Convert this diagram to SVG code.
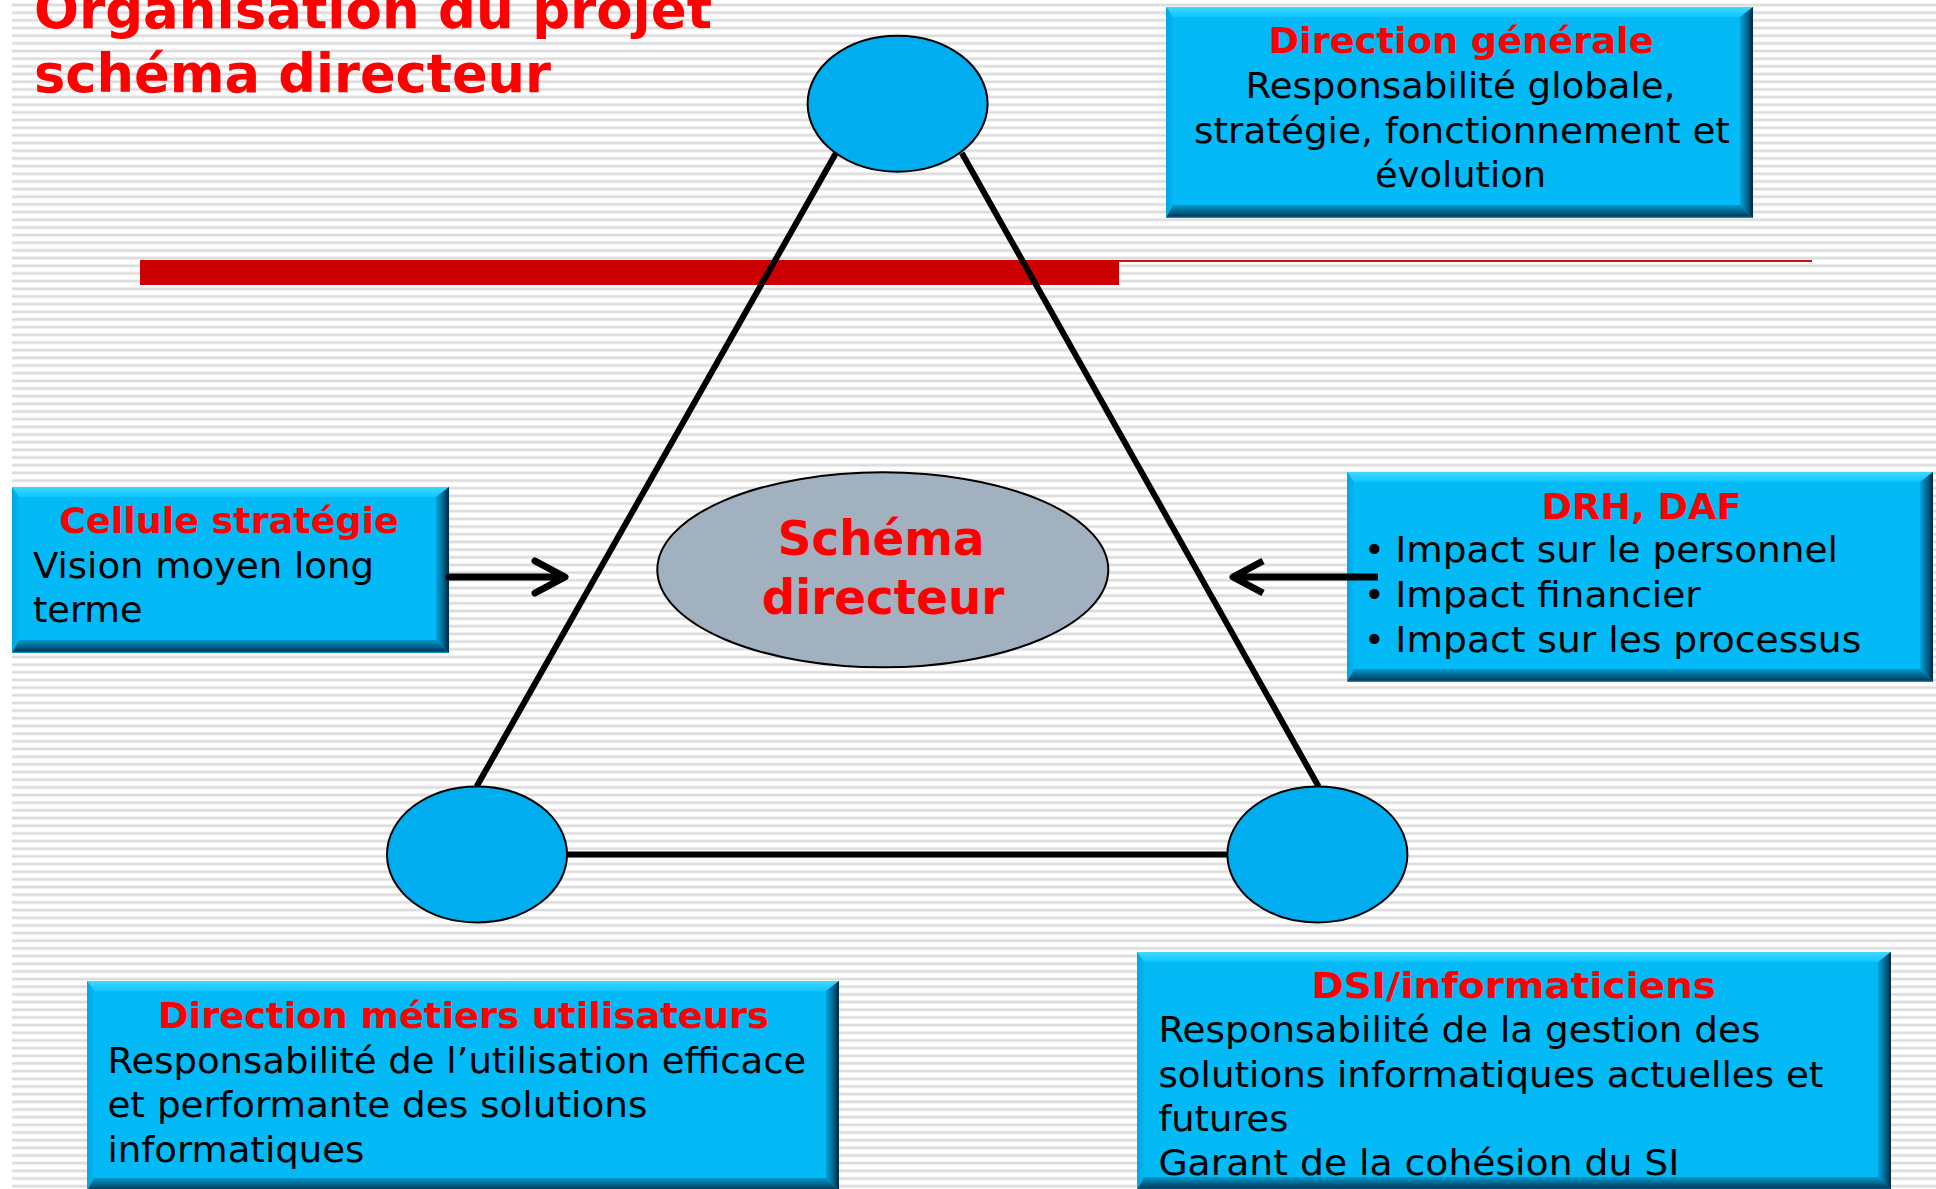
<svg xmlns="http://www.w3.org/2000/svg" width="1936" height="1189" viewBox="0 0 1936 1189">
<defs>
<pattern id="stripes" x="12" y="1.2" width="40" height="7.67" patternUnits="userSpaceOnUse">
<rect x="0" y="0" width="40" height="7.67" fill="#ffffff"/>
<rect x="0" y="2.2" width="40" height="3.2" fill="#ececec"/>
<rect x="0" y="2.8" width="40" height="2" fill="#dcdcdc"/>
</pattern>
<linearGradient id="gTop" x1="0" y1="0" x2="0" y2="1"><stop offset="0" stop-color="#3fd8ff"/><stop offset="1" stop-color="#10c6ff"/></linearGradient>
<linearGradient id="gLeft" x1="0" y1="0" x2="1" y2="0"><stop offset="0" stop-color="#00a6e2"/><stop offset="1" stop-color="#00b6f2"/></linearGradient>
<linearGradient id="gRight" x1="0" y1="0" x2="1" y2="0"><stop offset="0" stop-color="#00a4dc"/><stop offset="0.5" stop-color="#006c98"/><stop offset="1" stop-color="#00263c"/></linearGradient>
<linearGradient id="gBottom" x1="0" y1="0" x2="0" y2="1"><stop offset="0" stop-color="#0098cc"/><stop offset="0.6" stop-color="#005a80"/><stop offset="0.85" stop-color="#003a58"/><stop offset="1" stop-color="#14a8dc"/></linearGradient>
</defs>
<style>
.face{fill:#03b9f6}
.bt{fill:url(#gTop)}
.bl{fill:url(#gLeft)}
.br{fill:url(#gRight)}
.bb{fill:url(#gBottom)}
.head{font-family:"DejaVu Sans",Verdana,sans-serif;font-weight:bold;font-size:36px;fill:#ff0000}
.body{font-family:"DejaVu Sans",Verdana,sans-serif;font-size:35px;fill:#000000}
.title{font-family:"DejaVu Sans",Verdana,sans-serif;font-weight:bold;font-size:54px;fill:#ff0000}
.center{font-family:"DejaVu Sans",Verdana,sans-serif;font-weight:bold;font-size:48px;fill:#ff0000}
.tri{stroke:#000;stroke-width:6;fill:none}
.node{fill:#00aeef;stroke:#000;stroke-width:2}
.arrow{stroke:#000;stroke-width:7;fill:none;stroke-linecap:round;stroke-linejoin:round}
</style>
<rect x="0" y="0" width="1936" height="1189" fill="#ffffff"/>
<rect x="12" y="0" width="1924" height="1189" fill="url(#stripes)"/>

<g id="title">
<text class="title" x="34" y="28" textLength="678" lengthAdjust="spacingAndGlyphs">Organisation du projet</text>
<text class="title" x="34" y="92" textLength="517" lengthAdjust="spacingAndGlyphs">schéma directeur</text>
</g>

<g id="separator">
<line x1="140" y1="261" x2="1812" y2="261" stroke="#cc1010" stroke-width="2"/>
<rect x="140" y="260" width="979" height="25" fill="#cc0000"/>
</g>

<g id="triangle">
<line class="tri" x1="476.6" y1="786.5" x2="836" y2="153"/>
<line class="tri" x1="961.8" y1="153" x2="1318.6" y2="786.5"/>
<line class="tri" x1="566" y1="854.4" x2="1229" y2="854.4"/>
</g>

<g id="node-top"><ellipse class="node" cx="897.6" cy="103.7" rx="90" ry="68"/></g>
<g id="node-left"><ellipse class="node" cx="477" cy="854.4" rx="90" ry="68"/></g>
<g id="node-right"><ellipse class="node" cx="1317.4" cy="854.4" rx="90" ry="68"/></g>

<g id="schema-directeur">
<ellipse cx="882.8" cy="569.8" rx="225.5" ry="97.5" fill="#a2b1c0" stroke="#000" stroke-width="2"/>
<text class="center" x="777.7" y="555" textLength="207" lengthAdjust="spacingAndGlyphs">Schéma</text>
<text class="center" x="761.7" y="614" textLength="242.6" lengthAdjust="spacingAndGlyphs">directeur</text>
</g>

<g id="direction-generale">
<rect class="face" x="1166" y="7" width="587" height="211"/>
<polygon class="bt" points="1166,7 1753,7 1740,17 1173,17"/>
<polygon class="bl" points="1166,7 1173,17 1173,205 1166,218"/>
<polygon class="br" points="1753,7 1753,218 1740,205 1740,17"/>
<polygon class="bb" points="1166,218 1173,205 1740,205 1753,218"/>
<text class="head" x="1268.6" y="53" textLength="385" lengthAdjust="spacingAndGlyphs">Direction générale</text>
<text class="body" x="1245.5" y="98" textLength="430" lengthAdjust="spacingAndGlyphs">Responsabilité globale,</text>
<text class="body" x="1194" y="142.5" textLength="536" lengthAdjust="spacingAndGlyphs">stratégie, fonctionnement et</text>
<text class="body" x="1375" y="186.5" textLength="171" lengthAdjust="spacingAndGlyphs">évolution</text>
</g>

<g id="cellule-strategie">
<rect class="face" x="12" y="487" width="437" height="166"/>
<polygon class="bt" points="12,487 449,487 436,497 19,497"/>
<polygon class="bl" points="12,487 19,497 19,640 12,653"/>
<polygon class="br" points="449,487 449,653 436,640 436,497"/>
<polygon class="bb" points="12,653 19,640 436,640 449,653"/>
<text class="head" x="59.3" y="533" textLength="339.5" lengthAdjust="spacingAndGlyphs">Cellule stratégie</text>
<text class="body" x="33" y="578" textLength="341" lengthAdjust="spacingAndGlyphs">Vision moyen long</text>
<text class="body" x="33" y="622" textLength="109.5" lengthAdjust="spacingAndGlyphs">terme</text>
</g>

<g id="drh-daf">
<rect class="face" x="1347" y="472" width="586" height="210"/>
<polygon class="bt" points="1347,472 1933,472 1920,482 1354,482"/>
<polygon class="bl" points="1347,472 1354,482 1354,669 1347,682"/>
<polygon class="br" points="1933,472 1933,682 1920,669 1920,482"/>
<polygon class="bb" points="1347,682 1354,669 1920,669 1933,682"/>
<text class="head" x="1541.5" y="519" textLength="200" lengthAdjust="spacingAndGlyphs">DRH, DAF</text>
<text class="body" x="1364" y="561.7">•</text>
<text class="body" x="1395.3" y="561.7" textLength="442.7" lengthAdjust="spacingAndGlyphs">Impact sur le personnel</text>
<text class="body" x="1364" y="606.7">•</text>
<text class="body" x="1395.3" y="606.7" textLength="305.4" lengthAdjust="spacingAndGlyphs">Impact financier</text>
<text class="body" x="1364" y="651.7">•</text>
<text class="body" x="1395.3" y="651.7" textLength="466" lengthAdjust="spacingAndGlyphs">Impact sur les processus</text>
</g>

<g id="direction-metiers">
<rect class="face" x="87" y="981" width="752" height="210"/>
<polygon class="bt" points="87,981 839,981 826,991 94,991"/>
<polygon class="bl" points="87,981 94,991 94,1178 87,1191"/>
<polygon class="br" points="839,981 839,1191 826,1178 826,991"/>
<polygon class="bb" points="87,1191 94,1178 826,1178 839,1191"/>
<text class="head" x="158" y="1028" textLength="611" lengthAdjust="spacingAndGlyphs">Direction métiers utilisateurs</text>
<text class="body" x="107.4" y="1073" textLength="699" lengthAdjust="spacingAndGlyphs">Responsabilité de l’utilisation efficace</text>
<text class="body" x="107.4" y="1117" textLength="540" lengthAdjust="spacingAndGlyphs">et performante des solutions</text>
<text class="body" x="107.4" y="1162" textLength="257" lengthAdjust="spacingAndGlyphs">informatiques</text>
</g>

<g id="dsi-informaticiens">
<rect class="face" x="1137" y="952" width="754" height="238"/>
<polygon class="bt" points="1137,952 1891,952 1878,962 1144,962"/>
<polygon class="bl" points="1137,952 1144,962 1144,1177 1137,1190"/>
<polygon class="br" points="1891,952 1891,1190 1878,1177 1878,962"/>
<polygon class="bb" points="1137,1190 1144,1177 1878,1177 1891,1190"/>
<text class="head" x="1311.4" y="998" textLength="404.6" lengthAdjust="spacingAndGlyphs">DSI/informaticiens</text>
<text class="body" x="1158.4" y="1042" textLength="602" lengthAdjust="spacingAndGlyphs">Responsabilité de la gestion des</text>
<text class="body" x="1158.4" y="1086.5" textLength="665" lengthAdjust="spacingAndGlyphs">solutions informatiques actuelles et</text>
<text class="body" x="1158.4" y="1131" textLength="130" lengthAdjust="spacingAndGlyphs">futures</text>
<text class="body" x="1158.4" y="1175" textLength="521" lengthAdjust="spacingAndGlyphs">Garant de la cohésion du SI</text>
</g>

<g id="connectors">
<path class="arrow" d="M449,577 L563,577 M535,561 L565,577 L535,593"/>
<path class="arrow" d="M1378,577 L1235,577 M1263,561 L1233,577 L1263,593" style="stroke-linecap:butt"/>
</g>
</svg>
